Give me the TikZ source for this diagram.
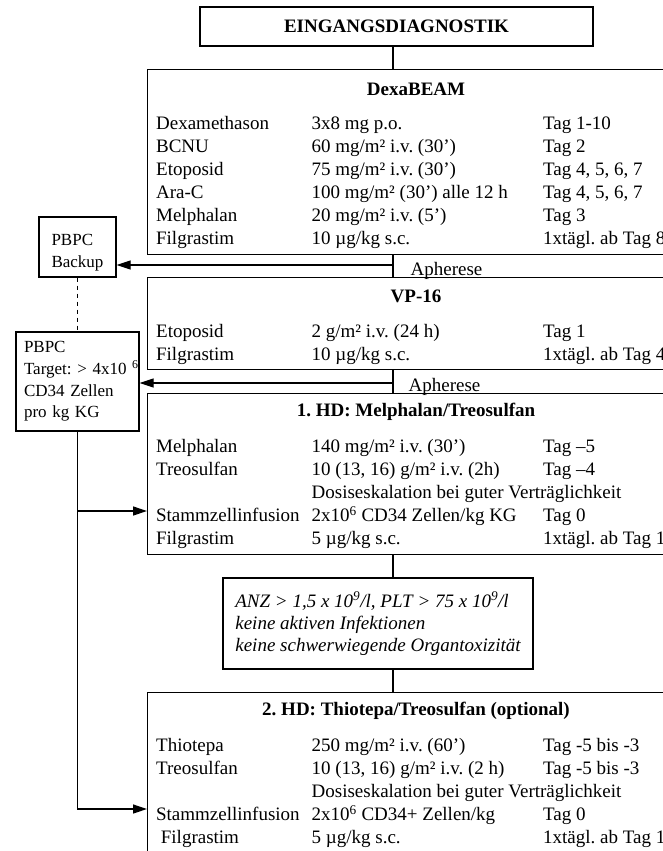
\documentclass[tikz,border=0pt]{standalone}
\usepackage{fontspec}
\setmainfont{Liberation Serif}
\usepackage{array}
\usepackage{tikz}
\usetikzlibrary{arrows.meta}
\setlength{\tabcolsep}{0pt}
\newcolumntype{T}{p{155.5pt}p{231.5pt}l}

\begin{document}
\frenchspacing
\begin{tikzpicture}[x=1pt,y=-1pt,line width=1.3pt,
                    every node/.style={font=\fontsize{19}{23}\selectfont},
                    box/.style={draw,rectangle,minimum width=538pt,anchor=north west,inner sep=0pt},
                    head/.style={font=\fontsize{19}{23}\selectfont\bfseries},
                    tab/.style={anchor=west,inner sep=0pt},
                    pbpc/.style={align=left,font=\fontsize{17}{21.7}\selectfont},
                    arr/.style={-{Triangle[length=14pt,width=9pt]}}]
                    \useasboundingbox (0,0) rectangle (663,851);
                    \clip (0,0) rectangle (663,851);
                    \coordinate (mid) at (393,0);
                    % Eingangsdiagnostik
                    \node[draw,head,minimum width=393pt,minimum height=39pt] (diag) at (396.5,26.5) {EINGANGSDIAGNOSTIK};
                    % DexaBEAM
                    \node[box,minimum height=185pt] (dexa) at (147,69) {};
                    \node[head] (dexahead) at (416,89) {DexaBEAM};
                    \node[tab] (dexatab) at (155.5,182.5) {\begin{tabular}{T}
                        Dexamethason & 3x8 mg p.o. & Tag 1-10\\
                        BCNU & 60 mg/m² i.v. (30') & Tag 2\\
                        Etoposid & 75 mg/m² i.v. (30') & Tag 4, 5, 6, 7\\
                        Ara-C & 100 mg/m² (30') alle 12 h & Tag 4, 5, 6, 7\\
                        Melphalan & 20 mg/m² i.v. (5') & Tag 3\\
                        Filgrastim & 10 µg/kg s.c. & 1xtägl. ab Tag 8
                    \end{tabular}};
                    % VP-16
                    \node[box,minimum height=92pt] (vp) at (147,277) {};
                    \node[head] (vphead) at (416,296) {VP-16};
                    \node[tab] (vptab) at (155.5,344.5) {\begin{tabular}{T}
                        Etoposid & 2 g/m² i.v. (24 h) & Tag 1\\
                        Filgrastim & 10 µg/kg s.c. & 1xtägl. ab Tag 4
                    \end{tabular}};
                    % 1. HD
                    \node[box,minimum height=161pt] (hdone) at (147,393) {};
                    \node[head] (hdonehead) at (416,412) {1. HD: Melphalan/Treosulfan};
                    \node[tab] (hdonetab) at (155.5,494) {\begin{tabular}{T}
                        Melphalan & 140 mg/m² i.v. (30') & Tag –5\\
                        Treosulfan & 10 (13, 16) g/m² i.v. (2h) & Tag –4\\
                        & \multicolumn{2}{l}{Dosiseskalation bei guter Verträglichkeit}\\
                        Stammzellinfusion & 2x10\textsuperscript{6} CD34 Zellen/kg KG & Tag 0\\
                        Filgrastim & 5 µg/kg s.c. & 1xtägl. ab Tag 1
                    \end{tabular}};
                    % Kriterien
                    \node[draw,align=left,minimum width=310pt,minimum height=91pt,
                          font=\fontsize{19}{22}\selectfont\itshape] (crit) at (378,623.5)
                        {ANZ > 1,5 x 10\textsuperscript{9}/l, PLT > 75 x 10\textsuperscript{9}/l\\
                         keine aktiven Infektionen\\
                         keine schwerwiegende Organtoxizität};
                    % 2. HD
                    \node[box,minimum height=200pt] (hdtwo) at (147,692) {};
                    \node[head] (hdtwohead) at (416,711) {2. HD: Thiotepa/Treosulfan (optional)};
                    \node[tab] (hdtwotab) at (155.5,793) {\begin{tabular}{T}
                        Thiotepa & 250 mg/m² i.v. (60') & Tag -5 bis -3\\
                        Treosulfan & 10 (13, 16) g/m² i.v. (2 h) & Tag -5 bis -3\\
                        & \multicolumn{2}{l}{Dosiseskalation bei guter Verträglichkeit}\\
                        Stammzellinfusion & 2x10\textsuperscript{6} CD34+ Zellen/kg & Tag 0\\
                        \hspace{0.25em}Filgrastim & 5 µg/kg s.c. & 1xtägl. ab Tag 1
                    \end{tabular}};
                    % PBPC
                    \node[draw,minimum width=77pt,minimum height=60pt] (backup) at (77.5,247) {};
                    \node[pbpc] (backuptxt) at (77.5,253) {PBPC\\Backup};
                    \node[pbpc,draw,text width=107pt,inner xsep=8pt,minimum height=99pt] (target) at (77.5,381.5)
                        {PBPC\\\mbox{Target: > 4x10 \textsuperscript{6}}\\CD34 Zellen\\pro kg KG};
                    % connectors
                    \draw (diag.south -| mid) -- (dexa.north -| mid);
                    \draw (dexa.south -| mid) -- (vp.north -| mid);
                    \draw (vp.south -| mid) -- (hdone.north -| mid);
                    \draw (hdone.south -| mid) -- (crit.north -| mid);
                    \draw (crit.south -| mid) -- (hdtwo.north -| mid);
                    \coordinate (aphone) at (393,265);
                    \coordinate (aphtwo) at (393,383);
                    \draw[arr] (aphone) -- (aphone -| backup.east);
                    \draw[arr] (aphtwo) -- (aphtwo -| target.east);
                    \node[anchor=base west,inner sep=0pt] (aphonetxt) at (410,275.5) {Apherese};
                    \node[anchor=base west,inner sep=0pt] (aphtwotxt) at (408,391.5) {Apherese};
                    \draw[dashed,line width=0.8pt,dash pattern=on 4pt off 4pt] (backup.south) -- (target.north);
                    \coordinate (inone) at (147,511);
                    \coordinate (intwo) at (147,809);
                    \draw[arr] (target.south) |- (intwo);
                    \draw[arr] (target.south |- inone) -- (inone);
                \end{tikzpicture}
\end{document}
